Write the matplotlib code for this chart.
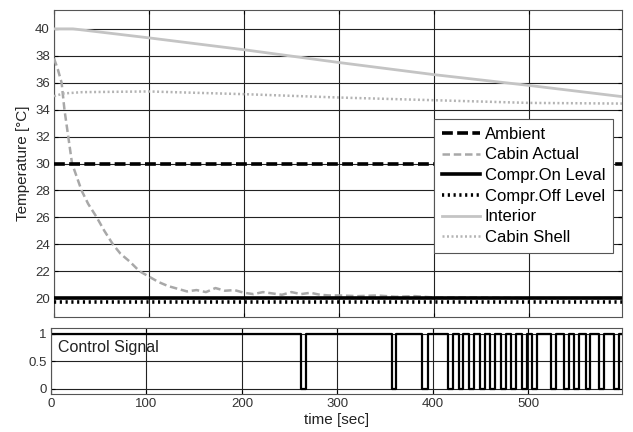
import numpy as np
import matplotlib.pyplot as plt

plt.rcParams["font.family"] = ["Liberation Sans", "DejaVu Sans"]

# ==================================================
# Data
# ==================================================

ambient_level = 30.0
on_level = 20.0
off_level = 19.75

# Cabin actual temperature
cabin_t = [0, 4, 8, 11, 15, 19, 24, 29, 36, 45, 53, 62, 70, 80, 90, 100,
           110, 120, 130, 140, 150, 160, 170, 180, 190, 200, 210, 220, 230,
           240, 250, 260, 270, 280, 290, 300, 320, 340, 360, 380, 400, 450,
           500, 550, 600]
cabin_T = [37.8, 37.0, 36.0, 34.0, 32.0, 30.0, 29.0, 28.0, 27.0, 26.0, 25.0,
           24.0, 23.3, 22.7, 22.0, 21.6, 21.2, 20.9, 20.7, 20.5, 20.6, 20.45,
           20.75, 20.55, 20.6, 20.4, 20.3, 20.45, 20.35, 20.25, 20.45, 20.3,
           20.4, 20.25, 20.2, 20.2, 20.15, 20.2, 20.1, 20.15, 20.05, 20.05,
           20.0, 20.0, 20.0]

# Interior temperature
interior_t = [0, 20, 50, 100, 200, 300, 400, 500, 600]
interior_T = [40.0, 40.0, 39.75, 39.33, 38.45, 37.5, 36.6, 35.8, 34.95]

# Cabin shell temperature
shell_t = [0, 10, 30, 100, 200, 300, 400, 500, 600]
shell_T = [35.0, 35.2, 35.3, 35.35, 35.15, 34.9, 34.7, 34.5, 34.45]

# Compressor control signal: intervals where it is off (0)
off_start = [262, 357, 389, 416, 427, 438, 449, 460, 471, 482, 493, 504,
             524, 537, 548, 560, 574, 590]
off_end = [267, 361, 395, 421, 432, 443, 454, 465, 476, 487, 498, 509,
           529, 542, 553, 565, 579, 595]

t_end = 598

# ==================================================
# Figure
# ==================================================

fig = plt.figure(figsize=(6.33, 4.32), dpi=100)
ax1 = fig.add_axes([54 / 633, 1 - 317 / 432, 568 / 633, 307 / 432])
ax2 = fig.add_axes([51 / 633, 1 - 394 / 432, 571 / 633, 66 / 432])

tick_col = "#333333"

ax1.plot([0, t_end], [ambient_level] * 2, color="black", lw=2.6,
         ls=(0, (3, 1.2)), label="Ambient", zorder=4)
ax1.plot(cabin_t, cabin_T, color="#a8a8a8", lw=1.8, ls=(0, (3, 1.5)),
         label="Cabin Actual", zorder=3)
ax1.plot([0, t_end], [on_level] * 2, color="black", lw=2.6,
         label="Compr.On Leval", zorder=5)
ax1.plot([0, t_end], [off_level] * 2, color="black", lw=2.6,
         ls=(0, (0.6, 1.0)), label="Compr.Off Level", zorder=5)
ax1.plot(interior_t, interior_T, color="#c4c4c4", lw=2.0,
         label="Interior", zorder=3)
ax1.plot(shell_t, shell_T, color="#b4b4b4", lw=1.8, ls=(0, (0.8, 1.0)),
         label="Cabin Shell", zorder=3)

ax1.set_xlim(0, t_end)
ax1.set_ylim(18.6, 41.4)
ax1.set_yticks(np.arange(20, 41, 2))
ax1.set_xticks(np.arange(0, 600, 100))
ax1.set_xticklabels([])
ax1.set_ylabel("Temperature [°C]", fontsize=11, color="#222222")
ax1.grid(True, color="#222222", lw=0.8)

leg = ax1.legend(loc="upper right", bbox_to_anchor=(0.99, 0.655),
                 fontsize=12, labelspacing=0.34, handlelength=2.3,
                 handletextpad=0.3, borderpad=0.45, borderaxespad=0.2,
                 fancybox=False, framealpha=1, edgecolor="#555555")
leg.get_frame().set_linewidth(0.8)

# Control signal
sig_t = [0]
sig_v = [1]
for a, b in zip(off_start, off_end):
    sig_t += [a, a, b, b]
    sig_v += [1, 0, 0, 1]
sig_t.append(t_end)
sig_v.append(1)

ax2.plot(sig_t, sig_v, color="black", lw=1.6)
ax2.set_xlim(0, t_end)
ax2.set_ylim(-0.1, 1.1)
ax2.set_yticks([0, 0.5, 1])
ax2.set_yticklabels(["0", "0.5", "1"])
ax2.set_xticks(np.arange(0, 600, 100))
ax2.grid(True, color="#222222", lw=0.8)
ax2.text(0.012, 0.82, "Control Signal", transform=ax2.transAxes,
         fontsize=11.5, color="#222222", va="top")
ax2.set_xlabel("time [sec]", fontsize=11, color="#222222", labelpad=2)

for ax in (ax1, ax2):
    ax.tick_params(direction="in", length=3, width=0.8, top=True,
                   right=True, labelsize=9.5, labelcolor=tick_col, pad=3)
    for s in ax.spines.values():
        s.set_color("#555555")
        s.set_linewidth(0.8)

fig.savefig("out.png", dpi=100)
